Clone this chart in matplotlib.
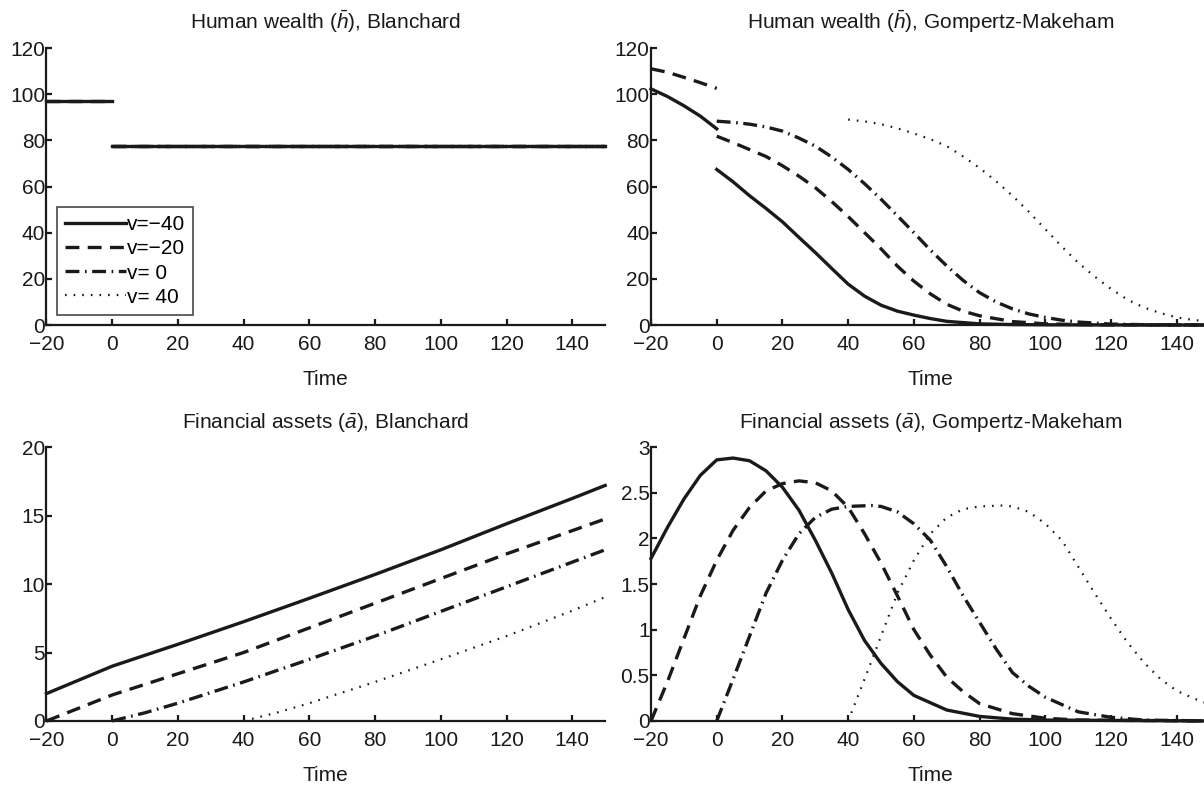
import numpy as np
import matplotlib
matplotlib.use("Agg")
import matplotlib.pyplot as plt

plt.rcParams['font.family'] = ['Liberation Sans', 'DejaVu Sans']
plt.rcParams['mathtext.fontset'] = 'custom'
plt.rcParams['mathtext.it'] = 'Liberation Sans:italic'
plt.rcParams['mathtext.rm'] = 'Liberation Sans'
plt.rcParams['lines.scale_dashes'] = False

# ---- data ----
labels = ["v=\u221240", "v=\u221220", "v= 0", "v= 40"]

# Human wealth, Blanchard (jump at t=0)
hb_pre_t = [-20, 0]
hb_pre = [97.2, 97.2]
hb_post_t = [0, 150]
hb_post = [77.5, 77.5]
hb_v40_t = [40, 150]
hb_v40 = [77.5, 77.5]

# Human wealth, Gompertz-Makeham
gh_m40_pre_t = [-20, -15, -10, -5, 0]
gh_m40_pre = [102.3, 99.0, 95.0, 90.5, 85.0]
gh_m40_t = [0, 5, 10, 15, 20, 25, 30, 35, 40, 45, 50, 55, 60, 65, 70, 80, 90, 100, 120, 150]
gh_m40 = [67.4, 62.0, 56.0, 50.5, 44.7, 38.0, 31.4, 24.5, 17.7, 12.5, 8.6, 6.0, 4.3, 2.8, 1.6,
          0.5, 0.2, 0.1, 0.03, 0.0]
gh_m20_pre_t = [-20, -15, -10, -5, 0]
gh_m20_pre = [111.0, 109.5, 107.3, 105.0, 102.5]
gh_m20_t = [0, 5, 10, 15, 20, 25, 30, 35, 40, 45, 50, 55, 60, 65, 70, 75, 80, 90, 100, 110, 120, 150]
gh_m20 = [81.8, 79.0, 76.0, 73.0, 69.0, 64.5, 59.5, 53.5, 47.0, 40.0, 33.0, 25.5, 19.0, 13.5,
          9.0, 6.0, 4.0, 1.5, 0.5, 0.2, 0.1, 0.0]
gh_0_t = [0, 5, 10, 15, 20, 25, 30, 35, 40, 45, 50, 55, 60, 65, 70, 75, 80, 85, 90, 95, 100,
          105, 110, 120, 130, 140, 150]
gh_0 = [88.3, 87.8, 87.0, 85.8, 84.0, 81.0, 77.5, 72.8, 67.4, 61.2, 54.5, 47.3, 40.0, 32.5,
        25.6, 19.3, 14.0, 10.0, 7.0, 4.8, 3.3, 2.1, 1.3, 0.4, 0.15, 0.05, 0.0]
gh_40_t = [40, 45, 50, 55, 60, 65, 70, 75, 80, 85, 90, 95, 100, 105, 110, 115, 120, 125, 130,
           135, 140, 145, 150]
gh_40 = [89.0, 88.2, 87.0, 85.2, 83.0, 80.5, 77.5, 73.0, 68.0, 62.3, 56.0, 49.0, 41.5, 34.0,
         27.0, 21.0, 15.6, 11.0, 7.6, 5.2, 3.3, 2.2, 1.5]

# Financial assets, Blanchard
ab_m40_t = [-20, 0, 20, 40, 60, 80, 100, 120, 140, 150]
ab_m40 = [2.0, 4.0, 5.6, 7.25, 8.96, 10.7, 12.5, 14.4, 16.25, 17.2]
ab_m20_t = [-20, 0, 20, 40, 60, 80, 100, 120, 140, 150]
ab_m20 = [0.0, 1.9, 3.45, 5.0, 6.8, 8.6, 10.4, 12.2, 13.9, 14.75]
ab_0_t = [0, 10, 20, 40, 60, 80, 100, 120, 140, 150]
ab_0 = [0.0, 0.6, 1.3, 2.85, 4.5, 6.2, 8.0, 9.8, 11.6, 12.5]
ab_40_t = [40, 50, 60, 80, 100, 120, 140, 150]
ab_40 = [0.0, 0.6, 1.3, 2.85, 4.5, 6.2, 8.05, 9.05]

# Financial assets, Gompertz-Makeham
ag_m40_t = [-20, -15, -10, -5, 0, 5, 10, 15, 20, 25, 30, 35, 40, 45, 50, 55, 60, 70, 80, 90,
            100, 150]
ag_m40 = [1.78, 2.12, 2.43, 2.69, 2.86, 2.88, 2.85, 2.74, 2.56, 2.31, 1.98, 1.62, 1.22, 0.88,
          0.63, 0.43, 0.28, 0.12, 0.05, 0.02, 0.01, 0.0]
ag_m20_t = [-20, -15, -10, -5, 0, 5, 10, 15, 20, 25, 30, 35, 40, 45, 50, 55, 60, 65, 70, 75,
            80, 90, 100, 110, 150]
ag_m20 = [0.0, 0.43, 0.9, 1.37, 1.76, 2.09, 2.34, 2.52, 2.6, 2.63, 2.61, 2.52, 2.34, 2.05,
          1.73, 1.37, 1.0, 0.72, 0.48, 0.32, 0.19, 0.08, 0.03, 0.01, 0.0]
ag_0_t = [0, 5, 10, 15, 20, 25, 30, 35, 40, 47, 50, 55, 60, 65, 70, 75, 80, 85, 90, 95, 100,
          110, 120, 130, 150]
ag_0 = [0.0, 0.46, 0.93, 1.4, 1.76, 2.05, 2.23, 2.32, 2.35, 2.36, 2.35, 2.29, 2.16, 1.98, 1.69,
        1.37, 1.08, 0.79, 0.53, 0.38, 0.26, 0.1, 0.04, 0.01, 0.0]
ag_40_t = [40, 45, 50, 55, 60, 65, 70, 75, 80, 87, 90, 95, 100, 105, 110, 115, 120, 125, 130,
           135, 140, 145, 150]
ag_40 = [0.0, 0.46, 0.93, 1.4, 1.76, 2.05, 2.23, 2.32, 2.35, 2.36, 2.35, 2.29, 2.16, 1.98, 1.69,
         1.4, 1.12, 0.86, 0.64, 0.46, 0.33, 0.25, 0.18]

# ---- styles ----
styles = [
    dict(color='#1a1a1a', lw=2.4, linestyle='-'),
    dict(color='#1a1a1a', lw=2.4, linestyle=(0, (10, 6))),
    dict(color='#1a1a1a', lw=2.4, linestyle=(0, (10, 4, 1.2, 4))),
    dict(color='#1a1a1a', lw=1.6, linestyle=(0, (1.2, 5))),
]
FS = 15


def joined(t1, y1, t2, y2):
    return np.r_[t1, np.nan, t2], np.r_[y1, np.nan, y2]


def style_axes(ax, title, ylim, yticks, yticklabels=None):
    ax.set_xlim(-20, 150)
    ax.set_ylim(*ylim)
    ax.set_xticks(range(-20, 160, 20))
    ax.set_yticks(yticks)
    if yticklabels is not None:
        ax.set_yticklabels(yticklabels)
    for s in ['top', 'right']:
        ax.spines[s].set_visible(False)
    for s in ['left', 'bottom']:
        ax.spines[s].set_linewidth(1.6)
        ax.spines[s].set_color('#1a1a1a')
        ax.spines[s].set_zorder(1)
    ax.tick_params(direction='in', length=4, width=1.6, top=False, right=False,
                   labelsize=FS, colors='#1a1a1a')
    ax.tick_params(axis='x', pad=7)
    ax.tick_params(axis='y', pad=1)
    ax.set_xlabel('Time', fontsize=FS, labelpad=12, color='#1a1a1a')
    ax.set_title(title, fontsize=FS, pad=14, color='#1a1a1a')


fig = plt.figure(figsize=(12.04, 7.87), dpi=100)
W = 0.464
ax1 = fig.add_axes([0.0386, 0.587, W, 0.352])
ax2 = fig.add_axes([0.5407, 0.587, W, 0.352])
ax3 = fig.add_axes([0.0386, 0.0839, W, 0.348])
ax4 = fig.add_axes([0.5407, 0.0839, W, 0.348])

# top-left
t, y = joined(hb_pre_t, hb_pre, hb_post_t, hb_post)
ax1.plot(t, y, label=labels[0], clip_on=False, **styles[0])
ax1.plot(t, y, label=labels[1], clip_on=False, **styles[1])
ax1.plot(hb_post_t, hb_post, label=labels[2], clip_on=False, **styles[2])
ax1.plot(hb_v40_t, hb_v40, label=labels[3], clip_on=False, **styles[3])
style_axes(ax1, r'Human wealth ($\bar{h}$), Blanchard', (0, 120), range(0, 121, 20))
leg = ax1.legend(loc='lower left', bbox_to_anchor=(0.019, 0.036), borderaxespad=0,
                 fontsize=FS, frameon=True, fancybox=False, handlelength=2.9,
                 handletextpad=0.05, labelspacing=0.25, borderpad=0.4)
leg.get_frame().set_edgecolor('#1a1a1a')
leg.get_frame().set_linewidth(1.2)

# top-right
t, y = joined(gh_m40_pre_t, gh_m40_pre, gh_m40_t, gh_m40)
ax2.plot(t, y, clip_on=False, **styles[0])
t, y = joined(gh_m20_pre_t, gh_m20_pre, gh_m20_t, gh_m20)
ax2.plot(t, y, clip_on=False, **styles[1])
ax2.plot(gh_0_t, gh_0, clip_on=False, **styles[2])
ax2.plot(gh_40_t, gh_40, clip_on=False, **styles[3])
style_axes(ax2, r'Human wealth ($\bar{h}$), Gompertz-Makeham', (0, 120), range(0, 121, 20))

# bottom-left
ax3.plot(ab_m40_t, ab_m40, clip_on=False, **styles[0])
ax3.plot(ab_m20_t, ab_m20, clip_on=False, **styles[1])
ax3.plot(ab_0_t, ab_0, clip_on=False, **styles[2])
ax3.plot(ab_40_t, ab_40, clip_on=False, **styles[3])
style_axes(ax3, r'Financial assets ($\bar{a}$), Blanchard', (0, 20), range(0, 21, 5))

# bottom-right
ax4.plot(ag_m40_t, ag_m40, clip_on=False, **styles[0])
ax4.plot(ag_m20_t, ag_m20, clip_on=False, **styles[1])
ax4.plot(ag_0_t, ag_0, clip_on=False, **styles[2])
ax4.plot(ag_40_t, ag_40, clip_on=False, **styles[3])
style_axes(ax4, r'Financial assets ($\bar{a}$), Gompertz-Makeham', (0, 3),
           [0, 0.5, 1, 1.5, 2, 2.5, 3], ['0', '0.5', '1', '1.5', '2', '2.5', '3'])

fig.savefig('out.png', dpi=100)
